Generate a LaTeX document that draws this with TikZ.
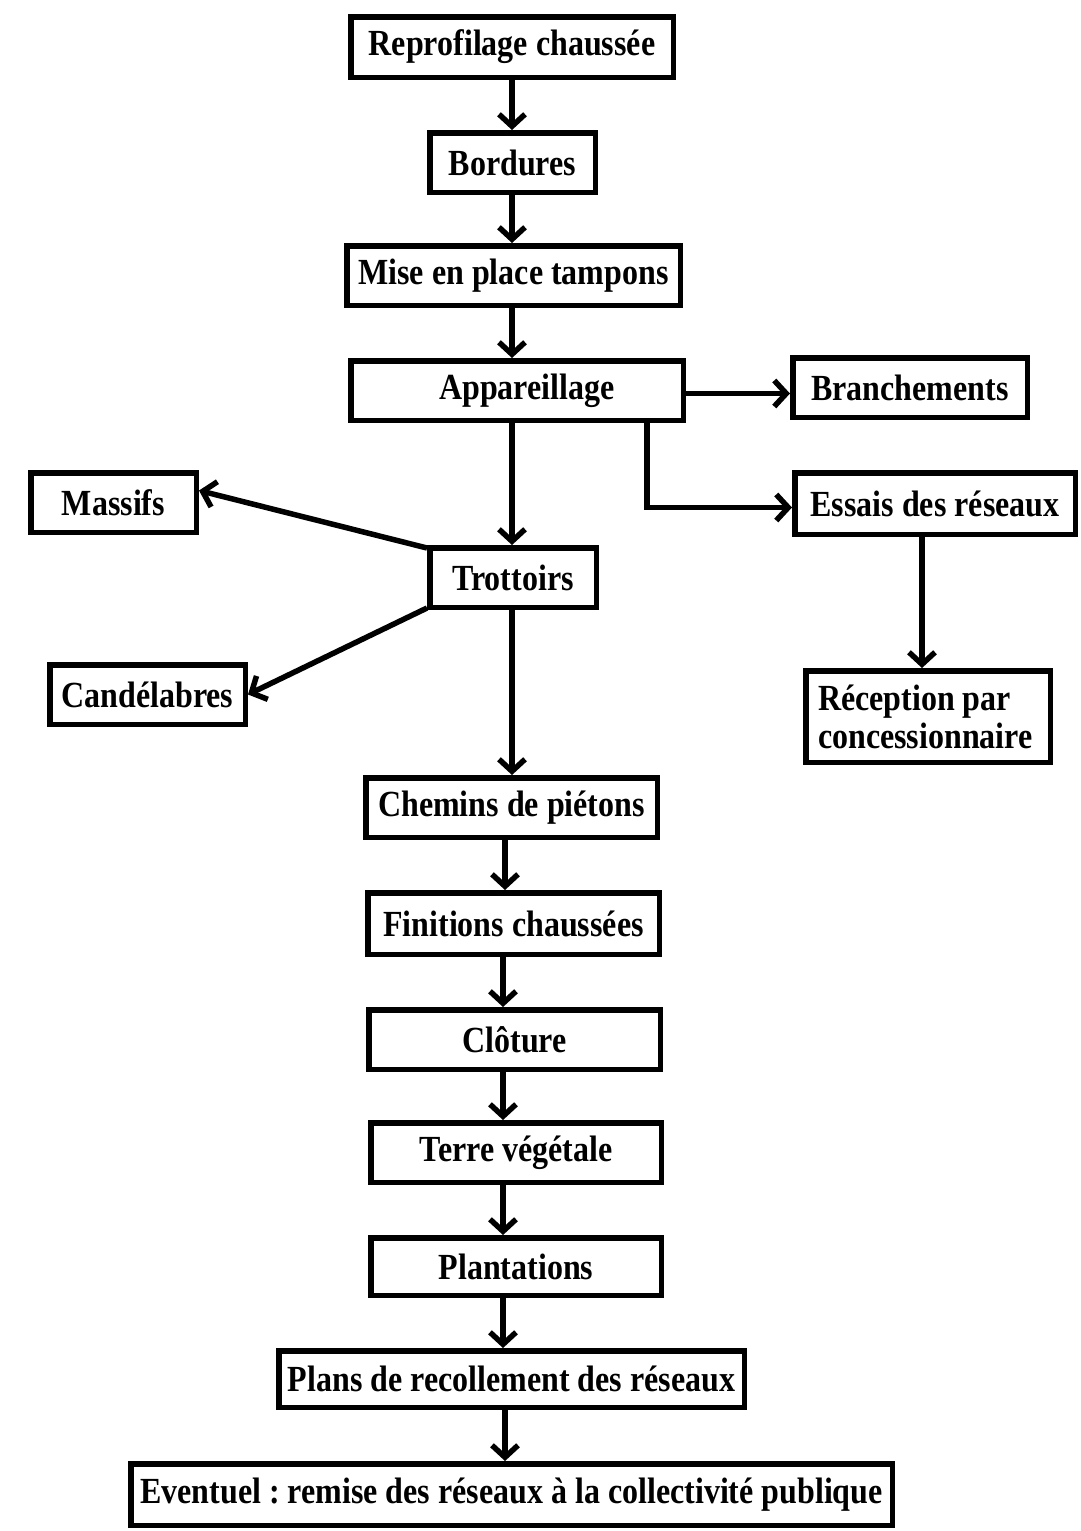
\documentclass[tikz,border=0pt]{standalone}
\usepackage{fontspec}
\setmainfont{Liberation Serif}
\usepackage{graphicx}
\usetikzlibrary{arrows.meta}
\frenchspacing
\newcommand\tx[1]{\scalebox{1}[1.15]{#1}}
\newcommand\mkbox[6]{\node[box,minimum width=#4pt-5.5pt,minimum height=#5pt-5.5pt] (#1) at (#2,#3) {#6};}
\tikzset{
  box/.style={draw, line width=5.5pt, inner sep=0pt, align=center,
    font=\fontsize{32}{36}\selectfont\bfseries},
  arr/.style={line width=5.5pt, -{Straight Barb[length=12pt,width=26pt]}}
}
\begin{document}
\begin{tikzpicture}[x=1pt,y=-1pt]
\useasboundingbox (0,0) rectangle (1081,1531);
\mkbox{rep}{512}{47}{328}{66}{\tx{Reprofilage chaussée}}
\mkbox{bor}{512.5}{162.5}{171}{65}{\tx{Bordures}}
\mkbox{mis}{513.5}{275.5}{339}{65}{\tx{Mise en place tampons}}
\mkbox{app}{517}{390.5}{338}{65}{\hspace*{20pt}\tx{Appareillage}}
\mkbox{bra}{910}{387.5}{240}{65}{\tx{Branchements}}
\mkbox{ess}{935}{503.5}{286}{67}{\tx{Essais des réseaux}}
\mkbox{mas}{113.5}{502.5}{171}{65}{\tx{Massifs}}
\mkbox{tro}{513}{577.5}{172}{65}{\tx{Trottoirs}}
\mkbox{can}{147.5}{694.5}{201}{65}{\tx{Candélabres}}
\node[box,minimum width=244.5pt,minimum height=91.5pt,align=flush left,text width=220pt] (rec) at (928,716.5)
  {\tx{Réception par}\\[2pt]\tx{concessionnaire}};
\mkbox{che}{511.5}{807.5}{297}{65}{\tx{Chemins de piétons}}
\mkbox{fin}{513.5}{923.5}{297}{67}{\tx{Finitions chaussées}}
\mkbox{clo}{514.5}{1039.5}{297}{65}{\tx{Clôture}}
\mkbox{ter}{516}{1152.5}{296}{65}{\tx{Terre végétale}}
\mkbox{pla}{516}{1266.5}{296}{63}{\tx{Plantations}}
\mkbox{plr}{511.5}{1379}{471}{62}{\tx{Plans de recollement des réseaux}}
\mkbox{eve}{511.5}{1494.5}{767}{67}{\tx{Eventuel : remise des réseaux à la collectivité publique}}
% connectors
\draw[arr] (rep.south -| 512,0) -- (bor.north -| 512,0);
\draw[arr] (bor.south -| 512,0) -- (mis.north -| 512,0);
\draw[arr] (mis.south -| 512,0) -- (app.north -| 512,0);
\draw[arr] ([yshift=-3pt]app.east) -- ([yshift=-3pt]app.east -| bra.west);
\draw[arr] (app.south -| 647,0) |- ([yshift=-4pt]ess.west);
\draw[arr] (app.south -| 512,0) -- (tro.north -| 512,0);
\draw[arr] ([yshift=-3pt]tro.north west) -- ([yshift=12pt]mas.east);
\draw[arr] ([yshift=2pt]tro.south west) -- (can.east);
\draw[arr] (ess.south -| 922,0) -- (rec.north -| 922,0);
\draw[arr] (tro.south -| 512,0) -- (che.north -| 512,0);
\draw[arr] (che.south -| 505,0) -- (fin.north -| 505,0);
\draw[arr] (fin.south -| 503,0) -- (clo.north -| 503,0);
\draw[arr] (clo.south -| 503,0) -- (ter.north -| 503,0);
\draw[arr] (ter.south -| 503,0) -- (pla.north -| 503,0);
\draw[arr] (pla.south -| 503,0) -- (plr.north -| 503,0);
\draw[arr] (plr.south -| 505,0) -- (eve.north -| 505,0);
\end{tikzpicture}
\end{document}
